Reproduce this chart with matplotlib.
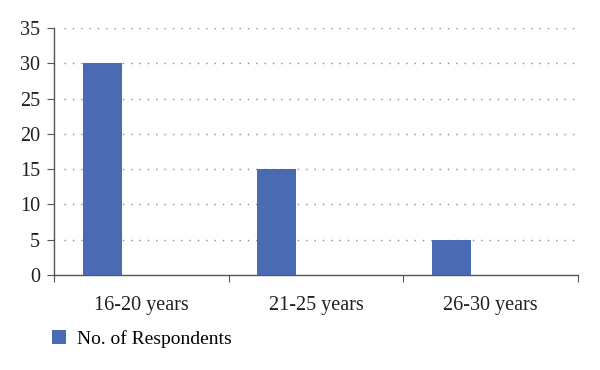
import matplotlib.pyplot as plt
from matplotlib.ticker import FixedLocator

# chart data
categories = ['16-20 years', '21-25 years', '26-30 years']
respondents = [30, 15, 5]
series_name = 'No. of Respondents'

plt.rcParams['font.family'] = ['Liberation Serif', 'DejaVu Serif']

fig = plt.figure(figsize=(6, 3.7), dpi=100)
ax = fig.add_axes([0.09, 0.257, 0.873, 0.667])

bar_color = '#4a6bb4'
bar_w = 0.223
x = [i - 0.223 for i in range(len(categories))]
ax.bar(x, respondents, width=bar_w, color=bar_color, label=series_name, zorder=3)

ax.set_xlim(-0.5, len(categories) - 0.5)
ax.set_ylim(0, 35)
ax.set_yticks(range(0, 36, 5))

# category boundaries as major ticks, labels at centres
ax.xaxis.set_major_locator(FixedLocator([i - 0.5 for i in range(len(categories) + 1)]))
ax.xaxis.set_minor_locator(FixedLocator(range(len(categories))))
ax.set_xticklabels([])
ax.set_xticklabels(categories, minor=True)
ax.tick_params(axis='x', which='minor', length=0, pad=15)
ax.tick_params(axis='x', which='major', length=5, direction='out', color='#555555')
ax.tick_params(axis='y', length=5, direction='out', color='#555555', pad=5)
ax.tick_params(which='both', labelsize=14.5, labelcolor='#231f20')

for s in ['top', 'right']:
    ax.spines[s].set_visible(False)
for s in ['left', 'bottom']:
    ax.spines[s].set_color('#555555')
    ax.spines[s].set_linewidth(1.0)

for v in range(5, 36, 5):
    ax.axhline(v, xmin=0.02, xmax=1.0, color='#8a8a8a', linestyle=(0, (1, 5)),
               linewidth=1.0, zorder=1)

fig.legend(loc='center left', bbox_to_anchor=(0.058, 1 - 339 / 370), frameon=False,
           handlelength=0.72, handleheight=0.72, handletextpad=0.55,
           prop={'size': 14})

fig.savefig('out.png', dpi=100)
